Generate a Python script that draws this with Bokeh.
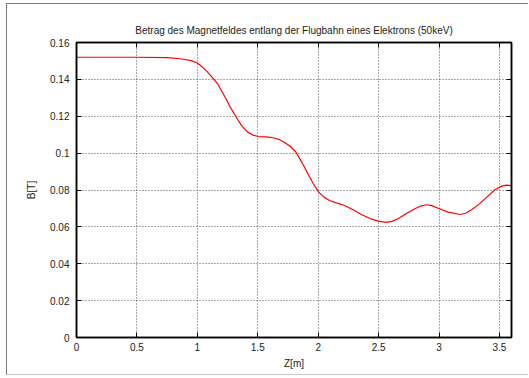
from bokeh.plotting import figure
from bokeh.models import LinearAxis, FixedTicker, Range1d
from bokeh.embed import file_html
from bokeh.resources import INLINE

# data
z_m = [0.0, 0.25, 0.5, 0.75, 0.86, 0.95, 1.0, 1.04, 1.085, 1.125, 1.168, 1.2, 1.237,
       1.27, 1.306, 1.335, 1.361, 1.39, 1.416, 1.46, 1.505, 1.57, 1.638, 1.68, 1.72,
       1.77, 1.817, 1.865, 1.915, 1.96, 2.003, 2.05, 2.094, 2.15, 2.218, 2.29, 2.357,
       2.43, 2.495, 2.564, 2.61, 2.661, 2.73, 2.80, 2.85, 2.896, 2.94, 2.993, 3.076,
       3.173, 3.22, 3.27, 3.33, 3.38, 3.463, 3.519, 3.56, 3.60]
b_t = [0.152, 0.152, 0.152, 0.1518, 0.1512, 0.1502, 0.1489, 0.1468, 0.1439, 0.1410,
       0.1376, 0.1338, 0.1295, 0.1253, 0.1213, 0.1181, 0.1155, 0.1132, 0.1114, 0.1098,
       0.1090, 0.1088, 0.1082, 0.1073, 0.1059, 0.1036, 0.1005, 0.0950, 0.0888, 0.0834,
       0.0790, 0.0760, 0.0743, 0.0730, 0.0716, 0.0693, 0.0667, 0.0645, 0.0631, 0.0624,
       0.0630, 0.0644, 0.0672, 0.0698, 0.0713, 0.0720, 0.0715, 0.0701, 0.0680,
       0.0667, 0.0674, 0.0693, 0.0722, 0.0752, 0.0801, 0.0821, 0.0826, 0.0824]

x_ticks = [0, 0.5, 1, 1.5, 2, 2.5, 3, 3.5]
x_tick_labels = ["0", "0.5", "1", "1.5", "2", "2.5", "3", "3.5"]
y_ticks = [0, 0.02, 0.04, 0.06, 0.08, 0.1, 0.12, 0.14, 0.16]
y_tick_labels = ["0", "0.02", "0.04", "0.06", "0.08", "0.1", "0.12", "0.14", "0.16"]

title_text = "Betrag des Magnetfeldes entlang der Flugbahn eines Elektrons (50keV)"
FONT = "Liberation Sans"

p = figure(width=522, height=372, output_backend="svg", toolbar_location=None,
           x_range=Range1d(0, 3.6), y_range=Range1d(0, 0.16),
           x_axis_label="Z[m]", y_axis_label="B[T]",
           min_border_left=69, min_border_right=18, min_border_top=38,
           min_border_bottom=39)
p.styles = {"margin-left": "6px", "margin-top": "3px",
            "border-left": "1px solid #7a7a7a", "border-top": "1px solid #7a7a7a",
            "border-bottom": "1px solid #c8c8c8"}

p.title.text = title_text
p.title.align = "center"
p.title.text_font = FONT
p.title.text_font_size = "10px"
p.title.text_font_style = "normal"
p.title.text_color = "#222222"
p.title.standoff = 13

p.line(z_m, b_t, line_color="#ff0000", line_width=1.2)

p.outline_line_color = "black"
p.outline_line_width = 1.5

for ax, ticks, labels in ((p.xaxis[0], x_ticks, x_tick_labels),
                          (p.yaxis[0], y_ticks, y_tick_labels)):
    ax.ticker = FixedTicker(ticks=ticks)
    ax.major_label_overrides = {t: l for t, l in zip(ticks, labels)}
    ax.major_tick_in = 5
    ax.major_tick_out = 0
    ax.minor_tick_in = 0
    ax.minor_tick_out = 0
    ax.axis_line_color = "black"
    ax.axis_line_width = 1.5
    ax.major_tick_line_color = "black"
    ax.major_label_text_font = FONT
    ax.major_label_text_font_size = "10px"
    ax.major_label_text_color = "#222222"
    ax.axis_label_text_font = FONT
    ax.axis_label_text_font_size = "10px"
    ax.axis_label_text_font_style = "normal"
    ax.axis_label_text_color = "#222222"

p.xaxis[0].major_label_standoff = 5
p.xaxis[0].axis_label_standoff = 4
p.yaxis[0].major_label_standoff = 7
p.yaxis[0].axis_label_standoff = 10

# mirrored inward ticks on top and right (no labels)
for loc, ticks in (("above", x_ticks), ("right", y_ticks)):
    ax = LinearAxis(ticker=FixedTicker(ticks=ticks),
                    major_label_text_font_size="1px", major_label_text_color=None,
                    major_label_standoff=0, major_tick_in=5, major_tick_out=0,
                    minor_tick_in=0, minor_tick_out=0, axis_line_color="black",
                    axis_line_width=1.5)
    p.add_layout(ax, loc)

p.xgrid.ticker = FixedTicker(ticks=x_ticks)
p.ygrid.ticker = FixedTicker(ticks=y_ticks)
for g in (p.xgrid[0], p.ygrid[0]):
    g.grid_line_color = "#555555"
    g.grid_line_dash = "1 2"
    g.grid_line_width = 1

open("out.html", "w").write(file_html(p, INLINE))
